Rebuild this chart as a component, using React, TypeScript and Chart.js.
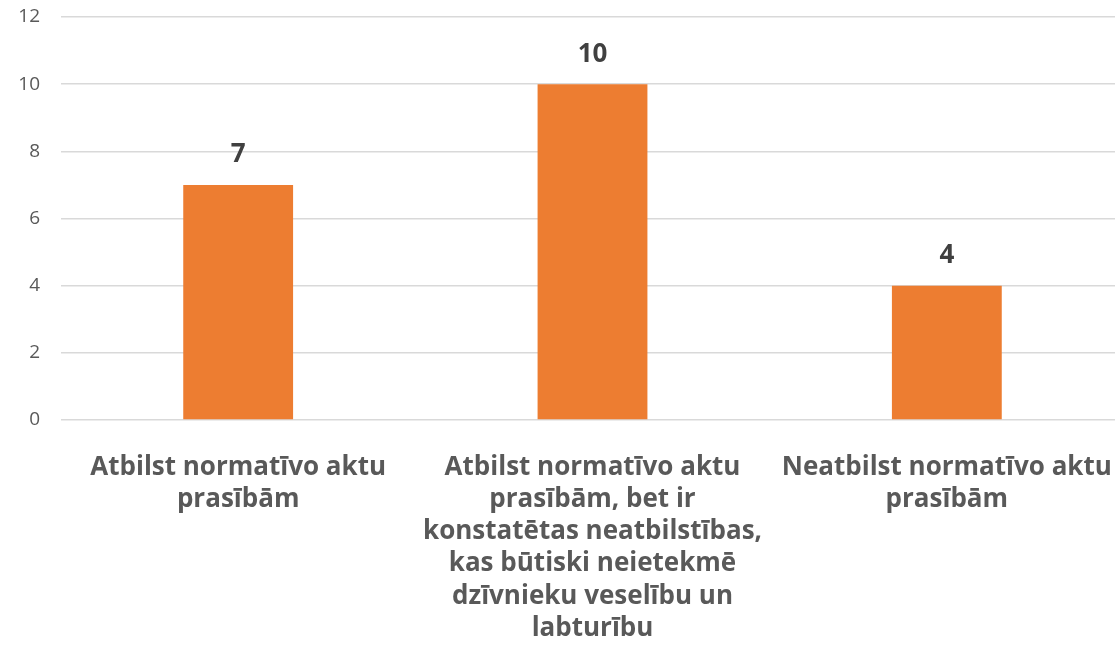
import React, { useEffect, useRef } from "react";
import { Chart, registerables } from "chart.js";

Chart.register(...registerables);

const categories: string[][] = [
  ["Atbilst normatīvo aktu", "prasībām"],
  ["Atbilst normatīvo aktu", "prasībām, bet ir", "konstatētas neatbilstības,", "kas būtiski neietekmē", "dzīvnieku veselību un", "labturību"],
  ["Neatbilst normatīvo aktu", "prasībām"],
];
const values: number[] = [7, 10, 4];
const yTicks = { min: 0, max: 12, step: 2 };

const FONT = "'Open Sans', 'Liberation Sans', sans-serif";

const valueLabels = {
  id: "valueLabels",
  afterDatasetsDraw(chart: any) {
    const ctx = chart.ctx;
    const meta = chart.getDatasetMeta(0);
    ctx.save();
    ctx.font = `bold 26px ${FONT}`;
    ctx.fillStyle = "#404040";
    ctx.textAlign = "center";
    ctx.textBaseline = "middle";
    meta.data.forEach((el: any, i: number) => {
      ctx.fillText(String(values[i]), el.x, el.y - 30);
    });
    ctx.restore();
  },
};

export default function App() {
  const ref = useRef<HTMLCanvasElement>(null);
  useEffect(() => {
    document.body.style.margin = "0";
    document.body.style.overflow = "hidden";
    const chart = new Chart(ref.current!, {
      type: "bar",
      data: {
        labels: categories,
        datasets: [
          {
            data: values,
            backgroundColor: "#ED7D31",
            borderWidth: 0,
            barPercentage: 1,
            categoryPercentage: 0.31,
          },
        ],
      },
      options: {
        animation: false,
        responsive: false,
        maintainAspectRatio: false,
        layout: { padding: { top: 17, right: 0, left: 0, bottom: 0 } },
        plugins: { legend: { display: false }, tooltip: { enabled: false } },
        scales: {
          x: {
            grid: { display: false },
            border: { display: false },
            ticks: {
              color: "#595959",
              font: { family: FONT, size: 26, weight: "bold", lineHeight: 1.242 },
              padding: 23,
              maxRotation: 0,
              autoSkip: false,
            },
            afterFit(scale: any) {
              scale.height = 248;
              scale.paddingLeft = 0;
              scale.paddingRight = 0;
            },
          },
          y: {
            min: yTicks.min,
            max: yTicks.max,
            ticks: {
              stepSize: yTicks.step,
              color: "#595959",
              font: { family: FONT, size: 19 },
              padding: 21,
            },
            grid: { color: "#D9D9D9", lineWidth: 1.5, drawTicks: false },
            border: { display: false },
            afterFit(scale: any) {
              scale.width = 61;
              scale.paddingTop = 0;
              scale.paddingBottom = 0;
            },
          },
        },
      },
      plugins: [valueLabels],
    });
    return () => chart.destroy();
  }, []);
  return (
    <div style={{ width: 1115, height: 668, overflow: "hidden" }}>
      <canvas ref={ref} width={1124} height={668} />
    </div>
  );
}
